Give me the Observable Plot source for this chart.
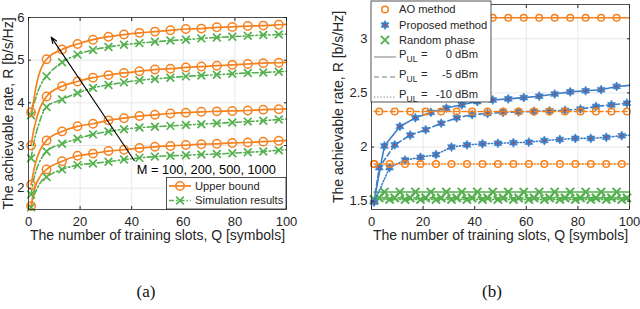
<!DOCTYPE html>
<html><head><meta charset="utf-8">
<script src="https://cdn.jsdelivr.net/npm/d3@7"></script>
<script src="https://cdn.jsdelivr.net/npm/@observablehq/plot@0.6"></script>
<style>
body{margin:0;background:#fff;width:640px;height:309px;position:relative;overflow:hidden;font-family:"Liberation Sans",Arial,sans-serif;}
#a{position:absolute;left:0;top:0}
#b{position:absolute;left:320px;top:0}
.cap{position:absolute;top:282px;font-family:"Liberation Serif","Times New Roman",serif;font-size:17px;color:#111;transform:translateX(-50%);line-height:20px}
</style></head><body>
<div id="a"></div><div id="b"></div>
<div class="cap" style="left:146px">(a)</div>
<div class="cap" style="left:492px">(b)</div>
<script>
// ---------- shared ----------
const xTicks = [0, 20, 40, 60, 80, 100];
const yTicksA = [2, 3, 4, 5, 6];
const yTicksB = [1.5, 2, 2.5, 3];
const xLabel = "The number of training slots, Q [symbols]";
const yLabel = "The achievable rate, R [b/s/Hz]";

// ---------- panel (a) data ----------
const M_values = [100, 200, 500, 1000];
const qA = [1, 2, 3, 4, 5, 7, 13, 19, 25, 31, 37, 43, 49, 55, 61, 67, 73, 79, 85, 91, 97, 100];
const markQA = [1, 7, 13, 19, 25, 31, 37, 43, 49, 55, 61, 67, 73, 79, 85, 91, 97];
const upper1000 = [3.78, 4.05, 4.40, 4.65, 4.82, 5.02, 5.25, 5.38, 5.48, 5.55, 5.60, 5.64, 5.67, 5.70, 5.73, 5.74, 5.77, 5.78, 5.80, 5.81, 5.83, 5.84];
const sim1000   = [3.71, 3.95, 4.15, 4.32, 4.45, 4.62, 4.95, 5.13, 5.24, 5.31, 5.36, 5.40, 5.43, 5.46, 5.48, 5.51, 5.53, 5.55, 5.57, 5.59, 5.60, 5.61];
const upper500  = [3.00, 3.35, 3.60, 3.80, 3.95, 4.15, 4.39, 4.50, 4.59, 4.65, 4.70, 4.74, 4.78, 4.80, 4.83, 4.85, 4.87, 4.89, 4.91, 4.93, 4.94, 4.95];
const sim500    = [2.70, 3.05, 3.30, 3.50, 3.68, 3.90, 4.08, 4.23, 4.35, 4.42, 4.48, 4.53, 4.56, 4.59, 4.62, 4.64, 4.66, 4.68, 4.70, 4.71, 4.73, 4.74];
const upper200  = [2.08, 2.40, 2.65, 2.82, 2.95, 3.12, 3.33, 3.45, 3.51, 3.59, 3.64, 3.69, 3.72, 3.75, 3.77, 3.79, 3.80, 3.81, 3.82, 3.84, 3.85, 3.86];
const sim200    = [1.85, 2.20, 2.42, 2.58, 2.70, 2.86, 3.04, 3.16, 3.26, 3.33, 3.38, 3.42, 3.44, 3.46, 3.48, 3.50, 3.52, 3.54, 3.56, 3.58, 3.61, 3.62];
const upper100  = [1.58, 1.90, 2.10, 2.22, 2.32, 2.44, 2.63, 2.76, 2.81, 2.87, 2.90, 2.94, 2.97, 2.99, 3.01, 3.03, 3.04, 3.06, 3.07, 3.09, 3.11, 3.12];
const sim100    = [1.55, 1.80, 1.95, 2.07, 2.16, 2.26, 2.44, 2.54, 2.58, 2.62, 2.67, 2.71, 2.74, 2.76, 2.77, 2.79, 2.80, 2.82, 2.84, 2.86, 2.89, 2.90];
const legendA = ["Upper bound", "Simulation results"];
const arrowA = {x1: 41, y1: 2.65, x2: 8.8, y2: 5.54};
const labelA = {x: 42, y: 2.44};

// ---------- panel (b) data ----------
const powers = ["0", "-5", "-10"];           // P_UL in dBm
const markerOffset = [5, 3, 1];              // first marker index per power
const qProp0  = [1, 5, 11, 17, 23, 29, 35, 41, 47, 53, 59, 65, 71, 77, 83, 89, 95, 100];
const rProp0  = [1.50, 2.01, 2.19, 2.27, 2.32, 2.36, 2.39, 2.42, 2.435, 2.445, 2.457, 2.47, 2.49, 2.51, 2.52, 2.53, 2.56, 2.57];
const qProp5  = [1, 3, 9, 15, 21, 27, 33, 39, 45, 51, 57, 63, 69, 75, 81, 87, 93, 99, 100];
const rProp5  = [1.50, 1.81, 2.02, 2.11, 2.16, 2.22, 2.27, 2.30, 2.31, 2.32, 2.325, 2.33, 2.335, 2.34, 2.35, 2.375, 2.39, 2.405, 2.41];
const qProp10 = [1, 7, 13, 19, 25, 31, 37, 43, 49, 55, 61, 67, 73, 79, 85, 91, 97, 100];
const rProp10 = [1.49, 1.81, 1.88, 1.905, 1.93, 2.00, 2.02, 2.03, 2.035, 2.04, 2.045, 2.06, 2.07, 2.08, 2.08, 2.09, 2.105, 2.11];
const rAO     = [3.195, 2.328, 1.844];       // AO method, flat in Q
const rRandom = [1.585, 1.53, 1.515];        // random phase, flat in Q
const qSpan   = [1, 100];
const legendB = ["AO method", "Proposed method", "Random phase"];

// ---------- styles ----------
const ORANGE = "#f5821f", GREEN = "#55b04f", BLUE = "#3d7fc6", RED = "#e0302a", INK = "#262626";
const dashB = {"0": null, "-5": "5,3", "-10": "1.2,2"};
const hexagram = {
  draw(context, size) {
    const R = Math.sqrt(size / Math.PI) * 1.15, ri = R / Math.sqrt(3);
    for (let i = 0; i < 12; i++) {
      const a = Math.PI / 6 * i - Math.PI / 2, rr = i % 2 === 0 ? R : ri;
      const px = rr * Math.cos(a), py = rr * Math.sin(a);
      i === 0 ? context.moveTo(px, py) : context.lineTo(px, py);
    }
    context.closePath();
  }
};
const gridStyle = {stroke: "#e2e2e2", strokeOpacity: 1, strokeWidth: 0.8};
function axes(yTicks, yFmt) {
  return [
    Plot.axisX({anchor: "bottom", ticks: xTicks, tickSize: -3, tickPadding: 10, label: null, stroke: INK, fill: INK}),
    Plot.axisX({anchor: "top", ticks: xTicks, tickSize: -3, tickFormat: () => null, label: null, stroke: INK}),
    Plot.axisY({anchor: "left", ticks: yTicks, tickSize: -3, tickPadding: 7, label: null, tickFormat: yFmt, stroke: INK, fill: INK}),
    Plot.axisY({anchor: "right", ticks: yTicks, tickSize: -3, tickFormat: () => null, label: null, stroke: INK}),
    Plot.frame({stroke: INK, strokeWidth: 0.8}),
    Plot.text([xLabel], {frameAnchor: "bottom", dy: 21, lineAnchor: "top", fill: INK, fontSize: 14}),
  ];
}

// ---------- panel (a) ----------
const seriesA = [
  [upper100, sim100], [upper200, sim200], [upper500, sim500], [upper1000, sim1000]
];
const upperRows = [], simRows = [];
M_values.forEach((M, k) => {
  qA.forEach((Q, i) => {
    upperRows.push({M, Q, R: seriesA[k][0][i]});
    simRows.push({M, Q, R: seriesA[k][1][i]});
  });
});
const isMarkA = d => markQA.includes(d.Q);

const plotA = Plot.plot({
  width: 320, height: 250,
  marginLeft: 28, marginRight: 34, marginTop: 17, marginBottom: 41,
  style: {fontFamily: "'Liberation Sans', Arial, sans-serif", fontSize: "13px", color: INK, background: "transparent"},
  x: {domain: [0, 100]},
  y: {domain: [1.5, 6]},
  marks: [
    Plot.gridX(xTicks, gridStyle),
    Plot.gridY(yTicksA, gridStyle),
    Plot.line(simRows, {x: "Q", y: "R", z: "M", stroke: GREEN, strokeWidth: 1.6, strokeDasharray: "6,2.5,1.6,2.5", curve: "monotone-x"}),
    Plot.line(upperRows, {x: "Q", y: "R", z: "M", stroke: ORANGE, strokeWidth: 1.7, curve: "monotone-x"}),
    Plot.dot(simRows.filter(isMarkA), {x: "Q", y: "R", symbol: "times", r: 3.6, stroke: GREEN, strokeWidth: 1.7}),
    Plot.dot(upperRows.filter(isMarkA), {x: "Q", y: "R", r: 4.2, stroke: ORANGE, strokeWidth: 1.5, fill: "none"}),
    Plot.arrow([arrowA], {x1: "x1", y1: "y1", x2: "x2", y2: "y2", stroke: "#000", strokeWidth: 1.1, headLength: 9, headAngle: 40}),
    Plot.text(["M = " + M_values.join(", ")], {x: labelA.x, y: labelA.y, textAnchor: "start", fontSize: 12.8, fill: "#000"}),
    ...axes(yTicksA, d3.format("d")),
    Plot.text([yLabel], {frameAnchor: "left", textAnchor: "middle", rotate: -90, dx: -20, fill: INK, fontSize: 14}),
  ]
});
document.getElementById("a").appendChild(plotA);

// legend (a)
{
  const g = d3.select(plotA).append("g").attr("font-size", 11.2).attr("fill", INK).attr("text-anchor", "start");
  const x0 = 166.5, y0 = 177.5, w = 286 - x0, h = 209 - y0;
  g.append("rect").attr("x", x0).attr("y", y0).attr("width", w).attr("height", h)
    .attr("fill", "white").attr("stroke", INK).attr("stroke-width", 0.8);
  legendA.forEach((t, i) => {
    const y = 186 + i * 14.5;
    const line = g.append("line").attr("x1", 169).attr("x2", 191).attr("y1", y).attr("y2", y)
      .attr("stroke", i ? GREEN : ORANGE).attr("stroke-width", 1.7);
    if (i) line.attr("stroke-dasharray", "5,2,1.5,2");
    const sym = d3.symbol(i ? d3.symbolTimes : d3.symbolCircle, Math.PI * (i ? 3.6 * 3.6 : 17.6))();
    g.append("path").attr("d", sym).attr("transform", `translate(180,${y})`)
      .attr("fill", "none").attr("stroke", i ? GREEN : ORANGE).attr("stroke-width", 1.6);
    g.append("text").attr("x", 195).attr("y", y).attr("dy", "0.35em").attr("text-anchor", "start").text(t);
  });
}

// ---------- panel (b) ----------
const propQ = [qProp0, qProp5, qProp10], propR = [rProp0, rProp5, rProp10];
const propRows = [], aoRows = [], randRows = [];
powers.forEach((P, k) => {
  propQ[k].forEach((Q, i) => propRows.push({P, Q, R: propR[k][i], mark: (Q - markerOffset[k]) % 6 === 0 && Q < 100}));
  const marksQ = d3.range(markerOffset[k], 100, 6);
  [qSpan[0], ...marksQ, qSpan[1]].forEach(Q => {
    const mark = (Q - markerOffset[k]) % 6 === 0 && Q < 100;
    aoRows.push({P, Q, R: rAO[k], mark});
    randRows.push({P, Q, R: rRandom[k], mark});
  });
});

const marksB = [];
powers.forEach(P => {
  const sel = rows => rows.filter(d => d.P === P);
  const dash = dashB[P] ? {strokeDasharray: dashB[P]} : {};
  marksB.push(
    Plot.line(sel(randRows), {x: "Q", y: "R", stroke: GREEN, strokeWidth: 1.6, ...dash}),
    Plot.dot(sel(randRows).filter(d => d.mark), {x: "Q", y: "R", symbol: "times", r: 3.8, stroke: GREEN, strokeWidth: 2}),
    Plot.line(sel(propRows), {x: "Q", y: "R", stroke: BLUE, strokeWidth: 1.6, ...dash}),
    Plot.dot(sel(propRows).filter(d => d.mark), {x: "Q", y: "R", symbol: hexagram, r: 4, fill: BLUE, stroke: BLUE, strokeWidth: 0.6}),
    Plot.dot(sel(propRows).filter(d => d.mark), {x: "Q", y: "R", r: 0.9, fill: RED, stroke: "none"}),
    Plot.line(sel(aoRows), {x: "Q", y: "R", stroke: ORANGE, strokeWidth: 1.6, ...dash}),
    Plot.dot(sel(aoRows).filter(d => d.mark), {x: "Q", y: "R", r: 3.3, stroke: ORANGE, strokeWidth: 1.5, fill: "none"})
  );
});

const plotB = Plot.plot({
  width: 320, height: 250,
  marginLeft: 51, marginRight: 11, marginTop: 4, marginBottom: 41,
  style: {fontFamily: "'Liberation Sans', Arial, sans-serif", fontSize: "13px", color: INK, background: "transparent"},
  x: {domain: [0, 100]},
  y: {domain: [1.423, 3.317]},
  marks: [
    Plot.gridX(xTicks, gridStyle),
    Plot.gridY(yTicksB, gridStyle),
    ...marksB,
    ...axes(yTicksB, d3.format("~g")),
    Plot.text([yLabel], {frameAnchor: "left", textAnchor: "middle", rotate: -90, dx: -33, fill: INK, fontSize: 14}),
  ]
});
document.getElementById("b").appendChild(plotB);

// legend (b)
{
  const g = d3.select(plotB).append("g").attr("font-size", 11.2).attr("fill", INK).attr("text-anchor", "start");
  g.append("rect").attr("x", 51).attr("y", 1).attr("width", 120).attr("height", 101)
    .attr("fill", "white").attr("stroke", INK).attr("stroke-width", 0.8);
  const rowsY = [9.5, 25, 40];
  legendB.forEach((t, i) => {
    const y = rowsY[i];
    if (i === 0) g.append("circle").attr("cx", 65).attr("cy", y).attr("r", 3.3).attr("fill", "none").attr("stroke", ORANGE).attr("stroke-width", 1.5);
    if (i === 1) {
      const p = d3.path(); hexagram.draw(p, Math.PI * 16);
      g.append("path").attr("d", p.toString()).attr("transform", `translate(65,${y})`).attr("fill", BLUE).attr("stroke", BLUE).attr("stroke-width", 0.6);
      g.append("circle").attr("cx", 65).attr("cy", y).attr("r", 0.9).attr("fill", RED);
    }
    if (i === 2) g.append("path").attr("d", d3.symbol(d3.symbolTimes, Math.PI * 3.8 * 3.8)()).attr("transform", `translate(65,${y})`).attr("fill", "none").attr("stroke", GREEN).attr("stroke-width", 2);
    g.append("text").attr("x", 79).attr("y", y).attr("dy", "0.35em").attr("text-anchor", "start").text(t);
  });
  powers.forEach((P, i) => {
    const y = 54.5 + i * 20;
    const line = g.append("line").attr("x1", 54).attr("x2", 76).attr("y1", y + 2.5).attr("y2", y + 2.5)
      .attr("stroke", "#a8a8a8").attr("stroke-width", 1.5);
    if (dashB[P]) line.attr("stroke-dasharray", dashB[P]);
    g.append("text").attr("x", 79).attr("y", y).attr("dy", "0.35em").attr("text-anchor", "start").text("P");
    g.append("text").attr("x", 86.5).attr("y", y + 5).attr("dy", "0.35em").attr("text-anchor", "start").attr("font-size", 8.5).text("UL");
    g.append("text").attr("x", 101).attr("y", y).attr("dy", "0.35em").attr("text-anchor", "start").text("=");
    g.append("text").attr("x", 158).attr("y", y).attr("dy", "0.35em").attr("text-anchor", "end").text(P + " dBm");
  });
}
</script></body></html>
